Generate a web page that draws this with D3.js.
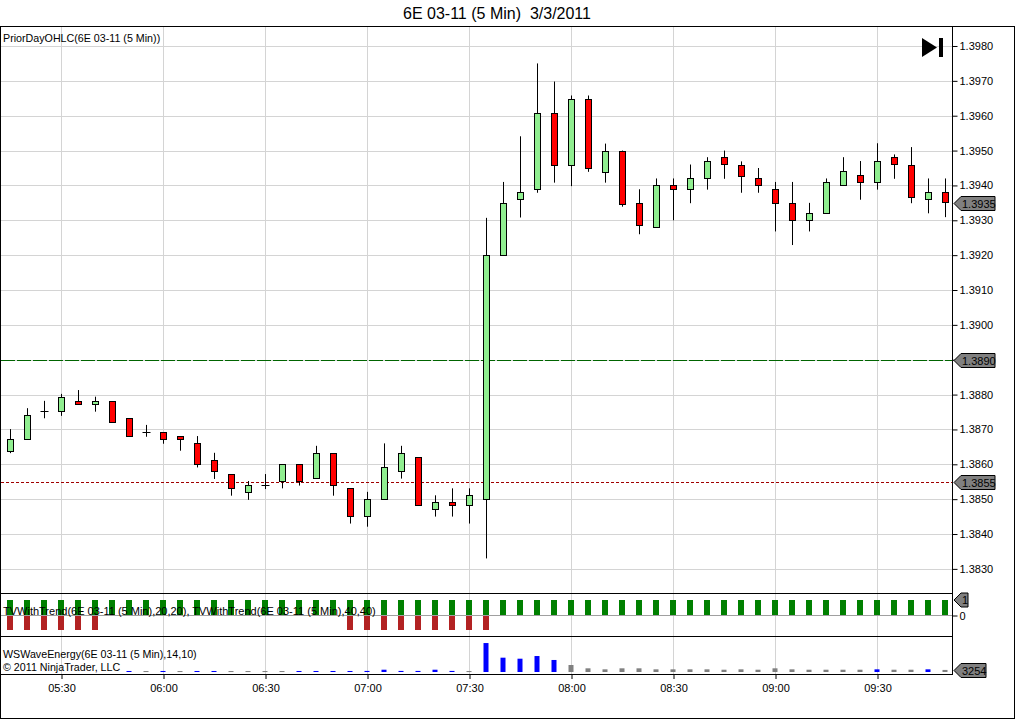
<!DOCTYPE html>
<html>
<head>
<meta charset="utf-8">
<script src="https://cdn.jsdelivr.net/npm/d3@7"></script>
<style>
  body { margin: 0; background: #fff; }
  svg text { font-family: "Liberation Sans", Arial, sans-serif; fill: #000; }
</style>
</head>
<body>
<svg id="chart" width="1016" height="720"></svg>
<script>
// 5分足 6E 03-11 (2011/3/3)
const barTimes = [
  "05:15","05:20","05:25","05:30","05:35","05:40","05:45","05:50","05:55","06:00",
  "06:05","06:10","06:15","06:20","06:25","06:30","06:35","06:40","06:45","06:50",
  "06:55","07:00","07:05","07:10","07:15","07:20","07:25","07:30","07:35","07:40",
  "07:45","07:50","07:55","08:00","08:05","08:10","08:15","08:20","08:25","08:30",
  "08:35","08:40","08:45","08:50","08:55","09:00","09:05","09:10","09:15","09:20",
  "09:25","09:30","09:35","09:40","09:45","09:50"
];
const openPrices = [
  1.38639,1.38672,1.38752,1.38751,1.38781,1.38772,1.38781,1.38732,1.38692,1.38692,
  1.38680,1.38661,1.38612,1.38571,1.38520,1.38540,1.38552,1.38600,1.38560,1.38632,
  1.38531,1.38451,1.38500,1.38580,1.38620,1.38471,1.38491,1.38482,1.38500,1.39200,
  1.39360,1.39389,1.39608,1.39460,1.39648,1.39440,1.39500,1.39350,1.39280,1.39400,
  1.39389,1.39420,1.39481,1.39460,1.39420,1.39389,1.39350,1.39301,1.39320,1.39400,
  1.39429,1.39409,1.39481,1.39460,1.39360,1.39380
];
const highPrices = [
  1.38701,1.38761,1.38782,1.38802,1.38813,1.38794,1.38781,1.38732,1.38713,1.38692,
  1.38680,1.38681,1.38633,1.38571,1.38552,1.38572,1.38600,1.38600,1.38653,1.38632,
  1.38531,1.38521,1.38660,1.38653,1.38620,1.38511,1.38531,1.38531,1.39307,1.39410,
  1.39541,1.39750,1.39698,1.39658,1.39658,1.39520,1.39500,1.39389,1.39420,1.39420,
  1.39460,1.39481,1.39500,1.39469,1.39450,1.39410,1.39410,1.39350,1.39420,1.39481,
  1.39470,1.39521,1.39489,1.39510,1.39420,1.39420
];
const lowPrices = [
  1.38632,1.38670,1.38732,1.38739,1.38772,1.38751,1.38721,1.38679,1.38679,1.38659,
  1.38639,1.38591,1.38558,1.38510,1.38498,1.38529,1.38531,1.38539,1.38560,1.38510,
  1.38430,1.38421,1.38500,1.38559,1.38482,1.38450,1.38450,1.38430,1.38330,1.39200,
  1.39308,1.39379,1.39408,1.39398,1.39439,1.39408,1.39339,1.39260,1.39280,1.39300,
  1.39349,1.39388,1.39419,1.39379,1.39379,1.39268,1.39229,1.39268,1.39320,1.39400,
  1.39359,1.39388,1.39419,1.39349,1.39320,1.39309
];
const closePrices = [
  1.38672,1.38741,1.38752,1.38792,1.38772,1.38781,1.38721,1.38679,1.38692,1.38671,
  1.38671,1.38600,1.38580,1.38531,1.38540,1.38540,1.38600,1.38551,1.38632,1.38540,
  1.38451,1.38500,1.38591,1.38632,1.38482,1.38491,1.38482,1.38511,1.39200,1.39349,
  1.39380,1.39608,1.39460,1.39648,1.39449,1.39500,1.39349,1.39288,1.39400,1.39389,
  1.39420,1.39469,1.39460,1.39429,1.39400,1.39349,1.39301,1.39320,1.39409,1.39440,
  1.39409,1.39469,1.39460,1.39369,1.39380,1.39350
];
// 前日の水準 (緑: 1.3890, 赤: 1.3855)
const priorLevels = [1.3890, 1.3855];
const priceTicks = [1.3830,1.3840,1.3850,1.3860,1.3870,1.3880,1.3890,1.3900,
                    1.3910,1.3920,1.3930,1.3940,1.3950,1.3960,1.3970,1.3980];
const timeTicks = ["05:30","06:00","06:30","07:00","07:30","08:00","08:30","09:00","09:30"];

// TVWithTrend 2本 (1 / 0 / -1)
const trendFast = [
  1,1,1,1,1,1,1,1,1,1, 1,1,1,1,1,1,1,1,1,1, 1,1,1,1,1,1,1,1,1,1,
  1,1,1,1,1,1,1,1,1,1, 1,1,1,1,1,1,1,1,1,1, 1,1,1,1,1,1
];
const trendSlow = [
  -1,-1,-1,-1,-1,-1,0,0,0,0, 0,0,0,0,0,0,0,0,0,0, -1,-1,-1,-1,-1,-1,-1,-1,-1,0,
  0,0,0,0,0,0,0,0,0,0, 0,0,0,0,0,0,0,0,0,0, 0,0,0,0,0,0
];
// WSWaveEnergy (null = 値なし), waveUp: 1 = 青, 0 = 灰
const waveEnergy = [
  null,null,null,null,null,null,null,1600,1500,1600,
  1500,1600,1600,1500,1500,1500,1500,1600,1600,1600,
  1600,1700,3600,1700,1700,3600,1700,1500,45500,22500,
  20900,25100,18900,11000,5800,4200,5800,5800,4200,4200,
  4200,4200,3600,4200,3600,5800,4200,3600,3600,3600,
  3600,4200,3600,3600,4200,3254
];
const waveUp = [
  0,0,0,0,0,0,0,1,0,1, 0,1,1,0,0,0,0,1,1,1, 1,1,1,1,1,1,1,0,1,1,
  1,1,1,0,0,0,0,0,0,0, 0,0,0,0,0,0,0,0,0,0, 0,1,0,0,1,0
];

const svg = d3.select("#chart");
const parseTime = d3.timeParse("%Y-%m-%d %H:%M");
const toDate = (t) => parseTime("2011-03-03 " + t);
const bars = barTimes.map((t, i) => ({
  t: toDate(t), o: openPrices[i], h: highPrices[i], l: lowPrices[i], c: closePrices[i],
  tf: trendFast[i], ts: trendSlow[i], we: waveEnergy[i], up: waveUp[i]
}));

const plotLeft = 1, plotRight = 953;
const priceTop = 27, priceBottom = 593, tvBottom = 636, waveBottom = 674;
const gridColor = "#d4d4d4";

const x = d3.scaleTime()
  .domain([bars[0].t, bars[bars.length - 1].t])
  .range([10, 945]);
const y = d3.scaleLinear().domain([1.382308, 1.398545]).range([priceBottom, priceTop]);
const yTv = d3.scaleLinear().domain([-1, 1]).range([630, 600]);
const yWave = d3.scaleLinear().domain([0, 55000]).range([672, 637]);
const px = (d) => Math.round(x(d.t)) + 0.5;
const lastClose = closePrices[closePrices.length - 1];

// タイトル
svg.append("text")
  .attr("x", 497).attr("y", 19)
  .attr("text-anchor", "middle")
  .style("font-size", "16px")
  .text("6E 03-11 (5 Min)\u00a0\u00a03/3/2011");

// グリッド
const grid = svg.append("g");
grid.selectAll(".hgrid").data(priceTicks).enter().append("line")
  .attr("x1", plotLeft).attr("x2", plotRight)
  .attr("y1", (d) => Math.round(y(d)) + 0.5).attr("y2", (d) => Math.round(y(d)) + 0.5)
  .attr("stroke", gridColor);
grid.selectAll(".vgrid").data(timeTicks).enter().append("line")
  .attr("x1", (d) => Math.round(x(toDate(d))) + 0.5).attr("x2", (d) => Math.round(x(toDate(d))) + 0.5)
  .attr("y1", priceTop).attr("y2", waveBottom)
  .attr("stroke", gridColor);

// 前日水準ライン
svg.append("line")
  .attr("x1", plotLeft).attr("x2", plotRight)
  .attr("y1", Math.round(y(priorLevels[0])) + 0.5).attr("y2", Math.round(y(priorLevels[0])) + 0.5)
  .attr("stroke", "#006400").attr("stroke-dasharray", "14,2");
svg.append("line")
  .attr("x1", plotLeft).attr("x2", plotRight)
  .attr("y1", Math.round(y(priorLevels[1])) + 0.5).attr("y2", Math.round(y(priorLevels[1])) + 0.5)
  .attr("stroke", "#a00000").attr("stroke-dasharray", "3,2");

// ローソク足
const candles = svg.append("g").selectAll("g").data(bars).enter().append("g");
candles.append("line")
  .attr("x1", px).attr("x2", px)
  .attr("y1", (d) => y(d.h)).attr("y2", (d) => y(d.l))
  .attr("stroke", "#000");
candles.filter((d) => Math.abs(d.o - d.c) > 0.00002).append("rect")
  .attr("x", (d) => px(d) - 3)
  .attr("y", (d) => Math.round(y(Math.max(d.o, d.c))) + 0.5)
  .attr("width", 6)
  .attr("height", (d) => Math.max(1, Math.round(y(Math.min(d.o, d.c)) - y(Math.max(d.o, d.c)))))
  .attr("fill", (d) => (d.c >= d.o ? "#90ee90" : "#ff0000"))
  .attr("stroke", "#000");
candles.filter((d) => Math.abs(d.o - d.c) <= 0.00002).append("line")
  .attr("x1", (d) => px(d) - 4).attr("x2", (d) => px(d) + 4)
  .attr("y1", (d) => Math.round(y(d.c)) + 0.5).attr("y2", (d) => Math.round(y(d.c)) + 0.5)
  .attr("stroke", "#000");

// TVWithTrend パネル
svg.append("line")
  .attr("x1", plotLeft).attr("x2", plotRight)
  .attr("y1", yTv(0) + 0.5).attr("y2", yTv(0) + 0.5)
  .attr("stroke", "#a0a0a0");
svg.append("g").selectAll("rect").data(bars.filter((d) => d.tf === 1)).enter().append("rect")
  .attr("x", (d) => px(d) - 3.5).attr("width", 6)
  .attr("y", yTv(1)).attr("height", yTv(0) - yTv(1))
  .attr("fill", "#008000");
svg.append("g").selectAll("rect").data(bars.filter((d) => d.ts === -1)).enter().append("rect")
  .attr("x", (d) => px(d) - 3.5).attr("width", 6)
  .attr("y", yTv(0) + 1).attr("height", yTv(-1) - yTv(0) - 1)
  .attr("fill", "#b22222");

// WSWaveEnergy パネル
svg.append("g").selectAll("rect").data(bars.filter((d) => d.we !== null)).enter().append("rect")
  .attr("x", (d) => px(d) - 3).attr("width", 5)
  .attr("y", (d) => yWave(d.we))
  .attr("height", (d) => Math.max(1, yWave(0) - yWave(d.we)))
  .attr("fill", (d) => (d.up ? "#0000ff" : "#808080"));

// パネル枠
const frame = svg.append("g").attr("stroke", "#000").attr("fill", "none");
frame.append("rect").attr("x", 0.5).attr("y", 26.5).attr("width", 1014).attr("height", 692);
[priceBottom, tvBottom, waveBottom].forEach((yy) => {
  frame.append("line").attr("x1", 0).attr("x2", plotRight).attr("y1", yy + 0.5).attr("y2", yy + 0.5);
});
frame.append("line").attr("x1", plotRight - 0.5).attr("x2", plotRight - 0.5)
  .attr("y1", priceTop).attr("y2", waveBottom);

// 価格軸 (フラグに隠れる目盛ラベルは省く)
const flagPrices = [lastClose].concat(priorLevels);
const yAxis = d3.axisRight(y).tickValues(priceTicks).tickSize(5).tickPadding(2)
  .tickFormat((d) => (flagPrices.some((f) => Math.abs(y(f) - y(d)) < 9) ? "" : d3.format(".4f")(d)));
const yAxisG = svg.append("g").attr("transform", `translate(${plotRight - 0.5},0)`).call(yAxis);
yAxisG.select(".domain").remove();
yAxisG.selectAll("text").style("font-size", "11px").attr("fill", "#000");

// TV 軸 ("0")
const tvAxis = d3.axisRight(yTv).tickValues([0]).tickFormat(d3.format("d")).tickSize(5).tickPadding(2);
const tvAxisG = svg.append("g").attr("transform", `translate(${plotRight - 0.5},0.5)`).call(tvAxis);
tvAxisG.select(".domain").remove();
tvAxisG.selectAll("text").style("font-size", "11px");

// 時間軸
const xAxis = d3.axisBottom(x).tickValues(timeTicks.map(toDate))
  .tickFormat(d3.timeFormat("%H:%M")).tickSize(5).tickPadding(5);
const xAxisG = svg.append("g").attr("transform", `translate(0.5,${waveBottom})`).call(xAxis);
xAxisG.select(".domain").remove();
xAxisG.selectAll("text").style("font-size", "11px");

// 値フラグ
function drawFlag(yy, label, w) {
  const x0 = plotRight + 1, h = 7;
  const g = svg.append("g");
  g.append("path")
    .attr("d", `M${x0},${yy} L${x0 + 7},${yy - h} L${x0 + w},${yy - h} L${x0 + w},${yy + h} L${x0 + 7},${yy + h} Z`)
    .attr("fill", "#808080").attr("stroke", "#000");
  g.append("text")
    .attr("x", x0 + 8).attr("y", yy + 4)
    .style("font-size", "11px")
    .text(label);
}
drawFlag(Math.round(y(lastClose)) + 0.5, d3.format(".4f")(lastClose), 41);
drawFlag(Math.round(y(priorLevels[0])) + 0.5, d3.format(".4f")(priorLevels[0]), 41);
drawFlag(Math.round(y(priorLevels[1])) + 0.5, d3.format(".4f")(priorLevels[1]), 41);
drawFlag(yTv(1), String(trendFast[trendFast.length - 1]), 14);
drawFlag(Math.round(yWave(waveEnergy[waveEnergy.length - 1])) + 0.5, String(waveEnergy[waveEnergy.length - 1]), 32);

// ラベル
const labels = svg.append("g").style("font-size", "10.7px");
labels.append("text").attr("x", 3).attr("y", 42).text("PriorDayOHLC(6E 03-11 (5 Min))");
labels.append("text").attr("x", 3).attr("y", 615).style("font-size", "11px")
  .text("TVWithTrend(6E 03-11 (5 Min),20,20), TVWithTrend(6E 03-11 (5 Min),40,40)");
labels.append("text").attr("x", 3).attr("y", 658).text("WSWaveEnergy(6E 03-11 (5 Min),14,10)");
labels.append("text").attr("x", 3).attr("y", 671).text("© 2011 NinjaTrader, LLC");

// 右端ボタン
svg.append("path").attr("d", "M922,38 L937,47.5 L922,57 Z").attr("fill", "#000");
svg.append("rect").attr("x", 939).attr("y", 38).attr("width", 4).attr("height", 19).attr("fill", "#000");
</script>
</body>
</html>
